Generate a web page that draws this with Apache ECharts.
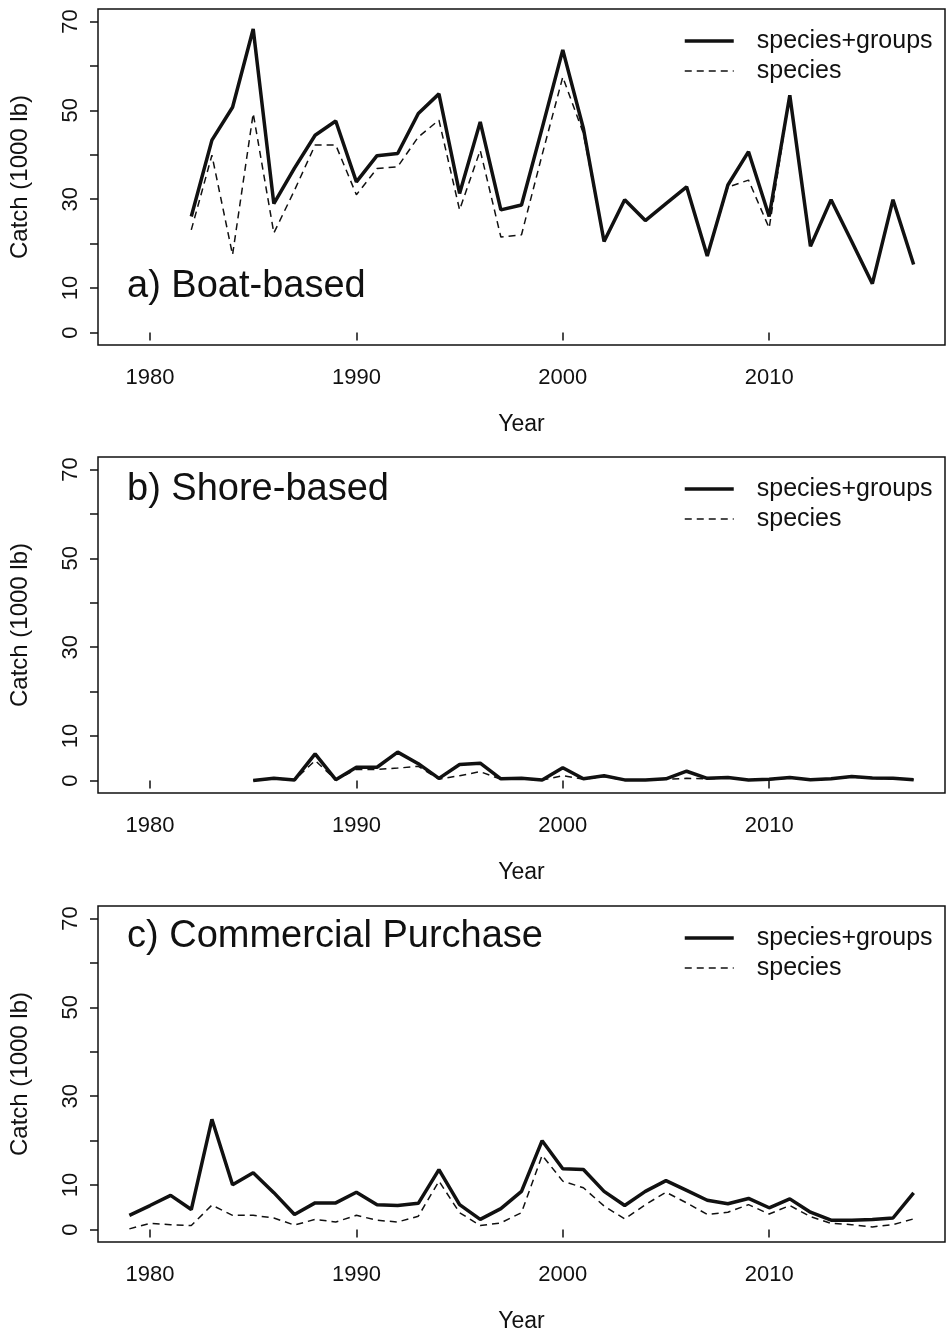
<!DOCTYPE html>
<html>
<head>
<meta charset="utf-8">
<title>Catch by mode</title>
<script src="https://cdn.jsdelivr.net/npm/echarts@6/dist/echarts.min.js"></script>
<style>
  html, body { margin: 0; padding: 0; background: #fff; }
  #chart { width: 946px; height: 1336px; }
</style>
</head>
<body>
<div id="chart"></div>
<script>
// tick values
const xTicks = [1980, 1990, 2000, 2010]
const yTicks = [0, 10, 20, 30, 40, 50, 60, 70]
const yTickLabels = [0, 10, 30, 50, 70]

// a) Boat-based, 1982-2017
const boatYears = [1982, 1983, 1984, 1985, 1986, 1987, 1988, 1989, 1990, 1991, 1992, 1993, 1994, 1995, 1996, 1997, 1998, 1999,
  2000, 2001, 2002, 2003, 2004, 2005, 2006, 2007, 2008, 2009, 2010, 2011, 2012, 2013, 2014, 2015, 2016, 2017]
const boatAll = [26.1, 43.3, 50.7, 68.3, 29.0, 37.0, 44.4, 47.6, 33.9, 39.8, 40.3, 49.3, 53.7, 31.3, 47.4, 27.6, 28.7, 46.0,
  63.6, 45.9, 20.5, 29.9, 25.2, 29.0, 32.8, 17.2, 33.2, 40.7, 26.1, 53.4, 19.4, 29.9, 20.5, 11.0, 29.9, 15.3]
const boatSpecies = [23.1, 39.9, 17.5, 49.3, 22.4, 32.0, 42.2, 42.2, 31.0, 36.9, 37.3, 44.0, 47.8, 27.6, 41.0, 21.5, 22.0, 40.0,
  57.5, 44.8, 20.5, 29.9, 25.2, 29.0, 32.8, 17.2, 32.7, 34.3, 23.5, 53.4, 19.4, 29.9, 20.5, 11.0, 29.9, 15.3]

// b) Shore-based, 1985-2017
const shoreYears = [1985, 1986, 1987, 1988, 1989, 1990, 1991, 1992, 1993, 1994, 1995, 1996, 1997, 1998, 1999,
  2000, 2001, 2002, 2003, 2004, 2005, 2006, 2007, 2008, 2009, 2010, 2011, 2012, 2013, 2014, 2015, 2016, 2017]
const shoreAll = [0.0, 0.5, 0.15, 6.0, 0.2, 3.0, 3.0, 6.4, 3.8, 0.5, 3.6, 3.9, 0.4, 0.5, 0.15,
  2.9, 0.4, 1.1, 0.15, 0.1, 0.4, 2.1, 0.5, 0.7, 0.15, 0.3, 0.7, 0.2, 0.4, 0.9, 0.6, 0.5, 0.2]
const shoreSpecies = [0.0, 0.4, 0.1, 4.5, 0.2, 2.5, 2.5, 2.8, 3.2, 0.3, 1.1, 2.0, 0.3, 0.4, 0.1,
  1.1, 0.3, 0.9, 0.1, 0.1, 0.3, 0.5, 0.4, 0.6, 0.1, 0.2, 0.6, 0.2, 0.3, 0.8, 0.5, 0.4, 0.2]

// c) Commercial Purchase, 1979-2017
const commYears = [1979, 1980, 1981, 1982, 1983, 1984, 1985, 1986, 1987, 1988, 1989, 1990, 1991, 1992, 1993, 1994, 1995, 1996, 1997, 1998, 1999,
  2000, 2001, 2002, 2003, 2004, 2005, 2006, 2007, 2008, 2009, 2010, 2011, 2012, 2013, 2014, 2015, 2016, 2017]
const commAll = [3.2, 5.4, 7.7, 4.5, 24.8, 10.1, 12.8, 8.3, 3.4, 6.0, 6.0, 8.4, 5.6, 5.4, 5.9, 13.5, 5.6, 2.3, 4.7, 8.6, 20.0,
  13.7, 13.5, 8.6, 5.4, 8.6, 11.0, 8.8, 6.6, 5.8, 7.0, 4.9, 6.9, 3.9, 2.1, 2.1, 2.25, 2.6, 8.25]
const commSpecies = [0.15, 1.4, 1.1, 0.9, 5.5, 3.2, 3.2, 2.6, 1.0, 2.3, 1.7, 3.2, 2.1, 1.7, 3.0, 10.9, 3.8, 0.9, 1.5, 3.8, 16.7,
  10.9, 9.4, 5.3, 2.4, 5.6, 8.4, 6.0, 3.4, 3.9, 5.6, 3.5, 5.4, 2.9, 1.4, 1.1, 0.6, 1.1, 2.4]

const panels = [
  { title: 'a) Boat-based', years: boatYears, all: boatAll, species: boatSpecies, top: 9, titleTop: 267 },
  { title: 'b) Shore-based', years: shoreYears, all: shoreAll, species: shoreSpecies, top: 457, titleTop: 470 },
  { title: 'c) Commercial Purchase', years: commYears, all: commAll, species: commSpecies, top: 906, titleTop: 917 }
]

const font = '"Liberation Sans", Arial, Helvetica, sans-serif'
const ink = '#111111'
const solidLine = { color: ink, width: 3.5 }
const dashedLine = { color: ink, width: 1.5, type: [7, 5] }

const chart = echarts.init(document.getElementById('chart'))

const grid = []
const xAxis = []
const yAxis = []
const series = []
const title = []
const legend = []

function pairs(years, values) {
  return years.map(function(y, i) { return [y, values[i]] })
}

panels.forEach(function(p, i) {
  grid.push({
    left: 95,
    width: 850,
    top: p.top,
    height: 336,
    show: true,
    borderColor: ink,
    borderWidth: 1.5,
    backgroundColor: 'transparent'
  })
  xAxis.push({
    type: 'value',
    gridIndex: i,
    min: 1977.48,
    max: 2018.52,
    name: 'Year',
    nameLocation: 'middle',
    nameGap: 68,
    nameTextStyle: { fontFamily: font, fontSize: 23, color: ink },
    axisLine: { show: false },
    splitLine: { show: false },
    axisTick: { show: true, length: 8, customValues: xTicks, lineStyle: { color: ink, width: 1.5 } },
    axisLabel: {
      customValues: xTicks,
      margin: 22,
      fontFamily: font,
      fontSize: 22,
      color: ink,
      formatter(v) { return String(v) }
    }
  })
  yAxis.push({
    type: 'value',
    gridIndex: i,
    min: -2.8,
    max: 72.8,
    name: 'Catch (1000 lb)',
    nameLocation: 'middle',
    nameGap: 66,
    nameTextStyle: { fontFamily: font, fontSize: 24, color: ink },
    axisLine: { show: false },
    splitLine: { show: false },
    axisTick: { show: true, length: 8, customValues: yTicks, lineStyle: { color: ink, width: 1.5 } },
    axisLabel: {
      customValues: yTickLabels,
      rotate: 90,
      margin: 16,
      fontFamily: font,
      fontSize: 22,
      color: ink,
      formatter(v) { return String(v) }
    }
  })
  series.push({
    name: 'species+groups',
    type: 'line',
    xAxisIndex: i,
    yAxisIndex: i,
    symbol: 'none',
    lineStyle: solidLine,
    itemStyle: { color: ink },
    data: pairs(p.years, p.all),
    z: 3
  })
  series.push({
    name: 'species',
    type: 'line',
    xAxisIndex: i,
    yAxisIndex: i,
    symbol: 'none',
    lineStyle: dashedLine,
    itemStyle: { color: ink },
    data: pairs(p.years, p.species),
    z: 2
  })
  title.push({
    text: p.title,
    left: 127,
    top: p.titleTop,
    padding: 0,
    textStyle: { fontFamily: font, fontSize: 38, fontWeight: 'normal', color: ink, lineHeight: 40 }
  })
  legend.push({
    left: 678,
    top: p.top + 12,
    orient: 'vertical',
    itemWidth: 49,
    itemHeight: 14,
    itemGap: 0,
    selectedMode: false,
    itemStyle: { opacity: 0 },
    data: [
      { name: 'species+groups', lineStyle: solidLine },
      { name: 'species', lineStyle: dashedLine }
    ],
    textStyle: { fontFamily: font, fontSize: 25, color: ink, lineHeight: 30, padding: [0, 0, 0, 18] }
  })
})

chart.setOption({
  backgroundColor: '#ffffff',
  animation: false,
  title: title,
  legend: legend,
  grid: grid,
  xAxis: xAxis,
  yAxis: yAxis,
  series: series
})
</script>
</body>
</html>
